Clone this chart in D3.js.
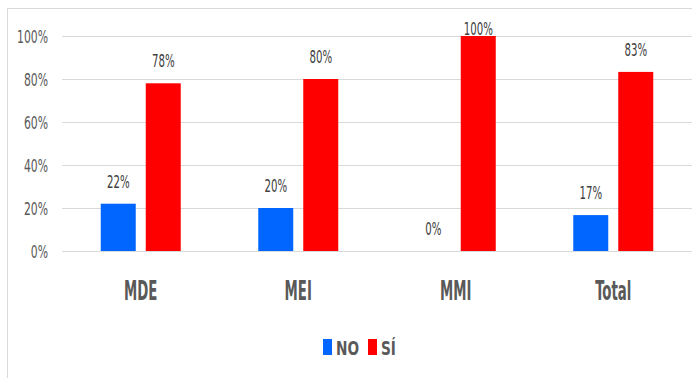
<!DOCTYPE html>
<html lang="es">
<head>
  <meta charset="UTF-8">
  <title>NO / SÍ por programa</title>
  <script src="https://d3js.org/d3.v7.min.js"></script>
  <style>
    body { margin: 0; background: #fff; }
    text { font-family: "DejaVu Sans Condensed", "Liberation Sans Narrow", sans-serif; }
  </style>
</head>
<body>
<div id="chart"></div>
<script>
  // data
  var categories = ["MDE", "MEI", "MMI", "Total"];
  var seriesNames = ["NO", "SÍ"];
  var noValues = [0.22, 0.20, 0, 0.167];
  var siValues = [0.78, 0.80, 1.00, 0.833];
  var yTicks = [0, 0.2, 0.4, 0.6, 0.8, 1];
  var colors = ["#0066ff", "#ff0000"];

  var W = 692, H = 378;
  var margin = { top: 36, left: 62, right: 0, bottom: 127 };

  var svg = d3.select("#chart").append("svg")
    .attr("width", W)
    .attr("height", H);

  // chart frame
  svg.append("rect")
    .attr("x", 7.5).attr("y", 8.5)
    .attr("width", 720).attr("height", 400)
    .attr("fill", "none")
    .attr("stroke", "#d9d9d9");

  var x = d3.scaleBand()
    .domain(categories)
    .range([margin.left, W - margin.right]);

  var y = d3.scaleLinear()
    .domain([0, 1])
    .range([H - margin.bottom, margin.top]);

  var pct = d3.format(".0%");

  // squeezed text helper
  function label(g, tx, ty, str, size, sx, opts) {
    opts = opts || {};
    return g.append("text")
      .attr("transform", "translate(" + tx + "," + ty + ") scale(" + sx + ",1)")
      .attr("text-anchor", opts.anchor || "middle")
      .attr("font-size", size)
      .attr("font-weight", opts.weight || "normal")
      .attr("fill", opts.fill || "#595959")
      .text(str);
  }

  // gridlines
  svg.append("g").selectAll("line")
    .data(yTicks)
    .join("line")
    .attr("x1", margin.left).attr("x2", W)
    .attr("y1", function(d) { return Math.round(y(d)) + 0.5; })
    .attr("y2", function(d) { return Math.round(y(d)) + 0.5; })
    .attr("stroke", "#d9d9d9");

  // y tick labels
  var yl = svg.append("g");
  yTicks.forEach(function(t) {
    label(yl, 48, y(t) + 7, pct(t), 18, 0.67, { anchor: "end" });
  });

  // bars
  var series = [noValues, siValues];
  var offsets = [-40, 5];
  var barW = 35;
  var bars = svg.append("g");
  var labels = svg.append("g");
  series.forEach(function(vals, s) {
    vals.forEach(function(v, i) {
      var cx = x(categories[i]) + x.bandwidth() / 2;
      bars.append("rect")
        .attr("x", cx + offsets[s])
        .attr("y", y(v))
        .attr("width", barW)
        .attr("height", y(0) - y(v))
        .attr("fill", colors[s]);
      label(labels, cx + offsets[s] + barW / 2, Math.max(y(v) - 16, 35),
        pct(v), 18, 0.63, { fill: "#404040" });
    });
  });

  // category labels
  var xl = svg.append("g");
  categories.forEach(function(c) {
    label(xl, x(c) + x.bandwidth() / 2, 300, c, 26, 0.57, { weight: "bold" });
  });

  // legend
  var leg = svg.append("g");
  var legX = [323, 368];
  seriesNames.forEach(function(n, i) {
    leg.append("rect")
      .attr("x", legX[i]).attr("y", 339)
      .attr("width", 9).attr("height", 16)
      .attr("fill", colors[i]);
    label(leg, legX[i] + 13, 355, n, 19, 0.8, { anchor: "start", weight: "bold" });
  });
</script>
</body>
</html>
